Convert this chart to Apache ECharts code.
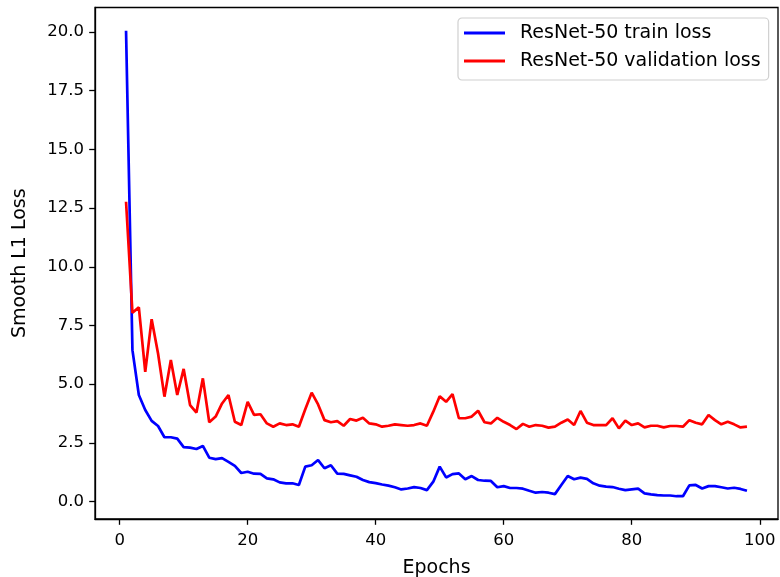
<!DOCTYPE html>
<html>
<head>
<meta charset="utf-8">
<script src="https://cdn.jsdelivr.net/npm/echarts@6/dist/echarts.min.js"></script>
<style>
  html, body { margin: 0; padding: 0; background: #ffffff; }
  #chart { width: 780px; height: 577px; }
</style>
</head>
<body>
<div id="chart"></div>
<script>
// Training curves for ResNet-50 (Smooth L1 loss per epoch)
const epochs = [
  1, 2, 3, 4, 5, 6, 7, 8, 9, 10, 11, 12, 13, 14, 15, 16, 17, 18, 19, 20,
  21, 22, 23, 24, 25, 26, 27, 28, 29, 30, 31, 32, 33, 34, 35, 36, 37, 38, 39, 40,
  41, 42, 43, 44, 45, 46, 47, 48, 49, 50, 51, 52, 53, 54, 55, 56, 57, 58, 59, 60,
  61, 62, 63, 64, 65, 66, 67, 68, 69, 70, 71, 72, 73, 74, 75, 76, 77, 78, 79, 80,
  81, 82, 83, 84, 85, 86, 87, 88, 89, 90, 91, 92, 93, 94, 95, 96, 97, 98
];

const trainLoss = [
  20.05, 6.45, 4.54, 3.90, 3.44, 3.22, 2.74, 2.74, 2.68, 2.32,
  2.30, 2.24, 2.37, 1.87, 1.81, 1.85, 1.69, 1.52, 1.22, 1.27,
  1.19, 1.18, 0.99, 0.95, 0.82, 0.78, 0.78, 0.71, 1.49, 1.55,
  1.77, 1.42, 1.55, 1.19, 1.18, 1.12, 1.06, 0.92, 0.83, 0.79,
  0.73, 0.68, 0.61, 0.52, 0.56, 0.62, 0.58, 0.49, 0.85, 1.49,
  1.03, 1.17, 1.20, 0.95, 1.09, 0.92, 0.89, 0.88, 0.61, 0.66,
  0.58, 0.58, 0.55, 0.46, 0.38, 0.41, 0.38, 0.32, 0.71, 1.09,
  0.95, 1.02, 0.97, 0.78, 0.68, 0.64, 0.62, 0.55, 0.49, 0.52,
  0.55, 0.35, 0.31, 0.28, 0.26, 0.26, 0.23, 0.23, 0.69, 0.71,
  0.56, 0.66, 0.66, 0.61, 0.56, 0.59, 0.54, 0.46
];

const valLoss = [
  12.77, 8.04, 8.27, 5.53, 7.77, 6.31, 4.47, 6.03, 4.54, 5.65,
  4.11, 3.79, 5.25, 3.38, 3.62, 4.18, 4.54, 3.40, 3.26, 4.25,
  3.69, 3.72, 3.33, 3.19, 3.33, 3.26, 3.29, 3.19, 3.93, 4.64,
  4.14, 3.47, 3.38, 3.43, 3.23, 3.52, 3.45, 3.57, 3.33, 3.29,
  3.19, 3.23, 3.29, 3.26, 3.23, 3.26, 3.33, 3.23, 3.83, 4.49,
  4.25, 4.58, 3.55, 3.55, 3.62, 3.87, 3.38, 3.33, 3.57, 3.40,
  3.26, 3.09, 3.31, 3.19, 3.26, 3.23, 3.15, 3.19, 3.36, 3.50,
  3.26, 3.86, 3.36, 3.26, 3.26, 3.26, 3.55, 3.12, 3.45, 3.26,
  3.33, 3.16, 3.23, 3.23, 3.16, 3.22, 3.22, 3.19, 3.47, 3.36,
  3.29, 3.69, 3.47, 3.29, 3.40, 3.29, 3.16, 3.19
];

const xTicks = [0, 20, 40, 60, 80, 100];
const yTicks = [0, 2.5, 5, 7.5, 10, 12.5, 15, 17.5, 20];

const seriesNames = ['ResNet-50 train loss', 'ResNet-50 validation loss'];

const FONT = 'DejaVu Sans';
const TICK_FS = 16.5;
const LABEL_FS = 19;

const chart = echarts.init(document.getElementById('chart'), null, { renderer: 'canvas' });

const pairs = (ys) => epochs.map((e, i) => [e, ys[i]]);

chart.setOption({
  animation: false,
  backgroundColor: '#ffffff',
  grid: {
    left: 95, right: 2, top: 7.5, bottom: 58,
    containLabel: false,
    outerBoundsMode: 'none',
    show: true, borderColor: '#000000', borderWidth: 1.3, backgroundColor: 'transparent'
  },
  legend: {
    left: 458, top: 18,
    orient: 'vertical',
    icon: 'rect',
    itemWidth: 41, itemHeight: 3,
    itemGap: 6,
    padding: [4, 8, 8, 6],
    backgroundColor: 'rgba(255,255,255,0.8)',
    borderColor: '#d0d0d0', borderWidth: 1.2, borderRadius: 4,
    textStyle: {
      fontFamily: FONT, fontSize: LABEL_FS, color: '#000000',
      lineHeight: 22, padding: [0, 0, 0, 10]
    },
    data: seriesNames
  },
  xAxis: {
    type: 'value',
    min: -3.85, max: 102.85,
    name: 'Epochs',
    nameLocation: 'middle',
    nameGap: 40,
    nameTextStyle: { fontFamily: FONT, fontSize: LABEL_FS, color: '#000000' },
    splitLine: { show: false },
    axisLine: { show: true, onZero: false, lineStyle: { color: '#000000', width: 1.3 } },
    axisTick: { show: true, inside: false, length: 5.8, lineStyle: { color: '#000000', width: 1.3 }, customValues: xTicks },
    axisLabel: {
      fontFamily: FONT, fontSize: TICK_FS, color: '#000000', margin: 13,
      customValues: xTicks,
      formatter: (v) => String(v)
    }
  },
  yAxis: {
    type: 'value',
    min: -0.74, max: 21.04,
    name: 'Smooth L1 Loss',
    nameLocation: 'middle',
    nameGap: 65,
    nameTextStyle: { fontFamily: FONT, fontSize: LABEL_FS, color: '#000000' },
    splitLine: { show: false },
    axisLine: { show: true, onZero: false, lineStyle: { color: '#000000', width: 1.3 } },
    axisTick: { show: true, inside: false, length: 5.8, lineStyle: { color: '#000000', width: 1.3 }, customValues: yTicks },
    axisLabel: {
      fontFamily: FONT, fontSize: TICK_FS, color: '#000000', margin: 11,
      customValues: yTicks,
      formatter: (v) => v.toFixed(1)
    }
  },
  series: [
    {
      name: seriesNames[0],
      type: 'line',
      data: pairs(trainLoss),
      symbol: 'none',
      lineStyle: { color: '#0000ff', width: 2.7 },
      itemStyle: { color: '#0000ff' },
      z: 3
    },
    {
      name: seriesNames[1],
      type: 'line',
      data: pairs(valLoss),
      symbol: 'none',
      lineStyle: { color: '#ff0000', width: 2.7 },
      itemStyle: { color: '#ff0000' },
      z: 4
    }
  ]
});
</script>
</body>
</html>
